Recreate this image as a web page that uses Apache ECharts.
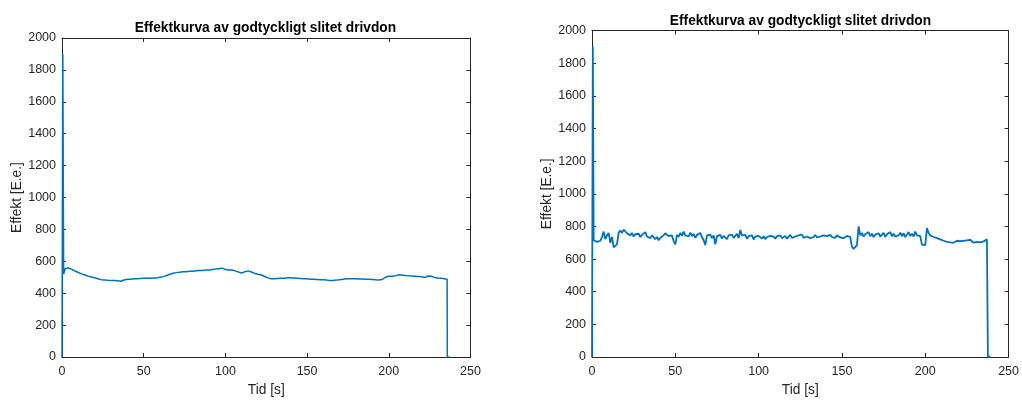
<!DOCTYPE html>
<html>
<head>
<meta charset="utf-8">
<script src="https://cdn.jsdelivr.net/npm/echarts@6/dist/echarts.min.js"></script>
<style>
html,body{margin:0;padding:0;background:#fff;}
#chart{width:1022px;height:402px;}
</style>
</head>
<body>
<div id="chart"></div>
<script>
// ---------- data ----------
const titleText = "Effektkurva av godtyckligt slitet drivdon";
const xName = "Tid [s]";
const yName = "Effekt [E.e.]";
const xTicks = [0, 50, 100, 150, 200, 250];
const yTicks = [0, 200, 400, 600, 800, 1000, 1200, 1400, 1600, 1800, 2000];

const sampleStep = 1;   // seconds between regular samples
const firstSample = 1;  // time of first regular sample

// left plot
const leftStartT = [0, 0.5];
const leftStartV = [0, 1900];
const leftValues = [
 520, 555, 563, 558, 556, 549, 547, 539, 537, 530,
 528, 521, 519, 514, 512, 507, 506, 501, 501, 497,
 497, 491, 490, 485, 487, 483, 485, 481, 484, 480,
 483, 479, 482, 478, 480, 475, 481, 483, 486, 487,
 490, 488, 492, 490, 493, 491, 494, 492, 495, 493,
 495, 494, 496, 494, 497, 495, 498, 496, 499, 500,
 502, 504, 508, 511, 515, 519, 522, 525, 527, 529,
 530, 532, 531, 534, 533, 535, 534, 537, 535, 538,
 537, 540, 539, 542, 541, 543, 542, 545, 544, 546,
 547, 549, 548, 551, 552, 554, 555, 557, 553, 549,
 548, 546, 547, 545, 544, 540, 538, 533, 530, 527,
 531, 535, 538, 540, 537, 533, 528, 524, 522, 519,
 517, 514, 510, 505, 500, 496, 492, 490, 490, 491,
 490, 492, 491, 493, 492, 494, 495, 497, 496, 497,
 495, 496, 494, 494, 493, 492, 491, 491, 490, 490,
 489, 488, 488, 487, 487, 486, 486, 485, 484, 484,
 483, 482, 481, 479, 478, 480, 482, 482, 484, 485,
 486, 488, 489, 490, 490, 491, 491, 490, 490, 491,
 490, 489, 490, 489, 488, 488, 487, 487, 486, 486,
 485, 484, 484, 483, 482, 486, 492, 500, 505, 506,
 508, 507, 509, 510, 513, 515, 516, 514, 512, 511,
 510, 509, 510, 508, 508, 507, 506, 505, 504, 503,
 500, 498, 505, 508, 510, 506, 501, 499, 497, 496,
 496, 494, 493, 491, 489
];
const leftEndT = [235.7, 235.8, 237];
const leftEndV = [488, 0, 2];

// right plot
const rightStartT = [0, 0.5];
const rightStartV = [0, 1900];
const rightValues = [
 715, 708, 705, 700, 712, 735, 768, 722, 745, 760,
 700, 735, 672, 660, 690, 762, 775, 760, 780, 772,
 758, 770, 745, 760, 738, 752, 740, 755, 735, 748,
 742, 765, 738, 750, 728, 745, 740, 722, 735, 715,
 730, 720, 745, 758, 762, 740, 728, 745, 710, 690,
 748, 735, 760, 742, 768, 745, 752, 738, 762, 740,
 755, 730, 748, 742, 760, 735, 715, 685, 745, 738,
 750, 728, 745, 690, 740, 732, 748, 725, 742, 735,
 722, 745, 738, 750, 730, 742, 755, 728, 778, 745,
 735, 748, 725, 740, 732, 745, 720, 738, 728, 742,
 730, 725, 740, 722, 735, 728, 742, 730, 738, 725,
 740, 732, 745, 728, 738, 742, 725, 735, 748, 730,
 742, 738, 728, 745, 735, 750, 730, 742, 738, 745,
 728, 740, 735, 748, 732, 742, 738, 730, 745, 735,
 740, 728, 748, 735, 742, 730, 745, 738, 732, 740,
 728, 738, 742, 730, 735, 675, 662, 670, 685, 800,
 745, 760, 738, 752, 745, 765, 740, 755, 735, 750,
 742, 758, 738, 748, 760, 735, 752, 742, 765, 740,
 755, 738, 750, 745, 762, 740, 758, 735, 750, 765,
 742, 755, 738, 768, 745, 752, 740, 688, 678, 685,
 790, 760, 745, 755, 735, 742, 728, 738, 720, 730,
 712, 718, 705, 698, 702, 695, 700, 708, 712, 715,
 710, 718, 712, 720, 715, 722, 718, 712, 700, 710,
 705, 712, 702, 710, 708, 715, 722
];
const rightEndT = [237.5, 237.6, 239];
const rightEndV = [716, 0, 2];

// ---------- build ----------
function buildSeries(startT, startV, values, endT, endV) {
  const pts = [];
  startT.forEach((t, i) => pts.push([t, startV[i]]));
  values.forEach((v, i) => pts.push([firstSample + i * sampleStep, v]));
  endT.forEach((t, i) => pts.push([t, endV[i]]));
  return pts;
}
const leftData = buildSeries(leftStartT, leftStartV, leftValues, leftEndT, leftEndV);
const rightData = buildSeries(rightStartT, rightStartV, rightValues, rightEndT, rightEndV);

const FONT = "'Liberation Sans', Arial, Helvetica, sans-serif";
const TXT = '#262626';
const AX = '#262626';

const grids = [
  { left: 62, top: 38, width: 408.5, height: 321.5 },
  { left: 592, top: 30.5, width: 418, height: 329 }
];

const xMin = xTicks[0], xMax = xTicks[xTicks.length - 1], xInt = xTicks[1] - xTicks[0];
const yMin = yTicks[0], yMax = yTicks[yTicks.length - 1], yInt = yTicks[1] - yTicks[0];
const plain = v => String(v);

const xAxes = [], yAxes = [];
grids.forEach((g, gi) => {
  xAxes.push({
    type: 'value', gridIndex: gi, min: xMin, max: xMax, interval: xInt, position: 'bottom',
    name: xName, nameLocation: 'middle', nameGap: 26,
    nameTextStyle: { fontFamily: FONT, fontSize: 13.75, color: TXT },
    axisLine: { show: true, onZero: false, lineStyle: { color: AX, width: 1 } },
    axisTick: { show: true, inside: true, length: 4, lineStyle: { color: AX } },
    axisLabel: { show: true, margin: 8, fontFamily: FONT, fontSize: 12.5, color: TXT, formatter: plain },
    splitLine: { show: false }
  });
  xAxes.push({
    type: 'value', gridIndex: gi, min: xMin, max: xMax, interval: xInt, position: 'top',
    axisLine: { show: true, onZero: false, lineStyle: { color: AX, width: 1 } },
    axisTick: { show: true, inside: true, length: 4, lineStyle: { color: AX } },
    axisLabel: { show: false }, splitLine: { show: false }
  });
  yAxes.push({
    type: 'value', gridIndex: gi, min: yMin, max: yMax, interval: yInt, position: 'left',
    name: yName, nameLocation: 'middle', nameGap: gi === 0 ? 36 : 38, nameRotate: 90,
    nameTextStyle: { fontFamily: FONT, fontSize: 13.75, color: TXT },
    axisLine: { show: true, onZero: false, lineStyle: { color: AX, width: 1 } },
    axisTick: { show: true, inside: true, length: 4, lineStyle: { color: AX } },
    axisLabel: { show: true, margin: 6, fontFamily: FONT, fontSize: 12.5, color: TXT, formatter: plain },
    splitLine: { show: false }
  });
  yAxes.push({
    type: 'value', gridIndex: gi, min: yMin, max: yMax, interval: yInt, position: 'right',
    axisLine: { show: true, onZero: false, lineStyle: { color: AX, width: 1 } },
    axisTick: { show: true, inside: true, length: 4, lineStyle: { color: AX } },
    axisLabel: { show: false }, splitLine: { show: false }
  });
});

const chart = echarts.init(document.getElementById('chart'), null, { renderer: 'canvas' });
chart.setOption({
  animation: false,
  backgroundColor: '#ffffff',
  title: [
    { text: titleText, left: 260.5, top: 16.5, textAlign: 'center',
      textStyle: { fontFamily: FONT, fontSize: 13.75, fontWeight: 'bold', color: '#000' } },
    { text: titleText, left: 795.5, top: 9, textAlign: 'center',
      textStyle: { fontFamily: FONT, fontSize: 13.75, fontWeight: 'bold', color: '#000' } }
  ],
  grid: grids,
  xAxis: xAxes,
  yAxis: yAxes,
  series: [
    { type: 'line', xAxisIndex: 0, yAxisIndex: 0, data: leftData, showSymbol: false, symbol: 'none',
      lineStyle: { color: '#0072BD', width: 1.5 }, silent: true },
    { type: 'line', xAxisIndex: 2, yAxisIndex: 2, data: rightData, showSymbol: false, symbol: 'none',
      lineStyle: { color: '#0072BD', width: 1.8 }, silent: true }
  ]
});
</script>
</body>
</html>
